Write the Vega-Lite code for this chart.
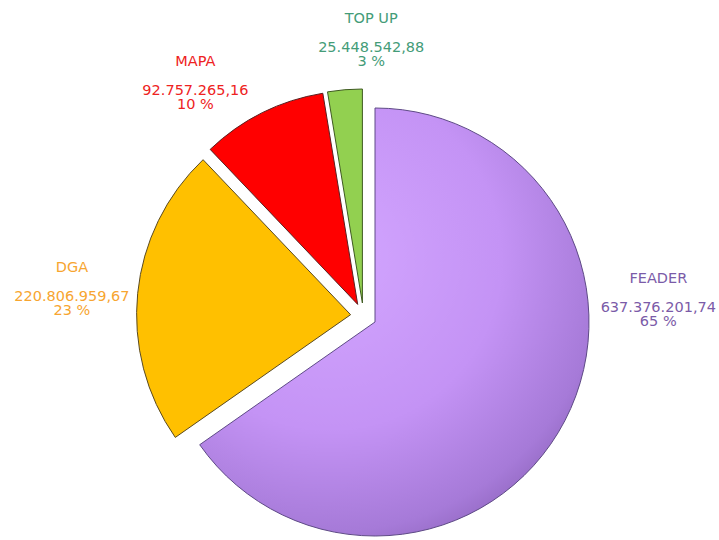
{
  "$schema": "https://vega.github.io/schema/vega-lite/v6.json",
  "width": 711,
  "height": 448,
  "autosize": {"type": "none"},
  "padding": {"left": 8, "top": 92, "right": 0, "bottom": 0},
  "background": "white",
  "config": {
    "view": {"stroke": null},
    "text": {"font": "DejaVu Sans", "fontSize": 14.5, "lineHeight": 14.5, "baseline": "middle", "align": "center"},
    "locale": {"number": {"decimal": ",", "thousands": ".", "grouping": [3], "currency": ["", " €"]}}
  },
  "data": {
    "values": [
      {"name": "FEADER", "value": 637376201.74, "order": 1},
      {"name": "DGA", "value": 220806959.67, "order": 2},
      {"name": "MAPA", "value": 92757265.16, "order": 3},
      {"name": "TOP UP", "value": 25448542.88, "order": 4}
    ]
  },
  "transform": [
    {"stack": "value", "groupby": [], "sort": [{"field": "order", "order": "ascending"}], "as": ["v0", "v1"]},
    {"joinaggregate": [{"op": "sum", "field": "value", "as": "total"}]},
    {"calculate": "datum.v0 / datum.total", "as": "f0"},
    {"calculate": "datum.v1 / datum.total", "as": "f1"},
    {"calculate": "(datum.f0 + datum.f1) / 2", "as": "fm"},
    {"calculate": "[format(datum.value, ',.2f'), round(100 * datum.value / datum.total) + ' %']", "as": "label"}
  ],
  "layer": [
    {
      "transform": [{"filter": "datum.name === 'FEADER'"}],
      "mark": {
        "type": "arc", "radius": 214, "xOffset": 11.5, "yOffset": 6,
        "stroke": "#5E4A86", "strokeWidth": 1,
        "fill": {
          "gradient": "radial", "x1": 0.35, "y1": 0.35, "r1": 0, "x2": 0.35, "y2": 0.35, "r2": 0.8,
          "stops": [
            {"offset": 0, "color": "#D3A6FF"},
            {"offset": 0.5, "color": "#C493F5"},
            {"offset": 0.8, "color": "#A67AD8"},
            {"offset": 1, "color": "#7E56AA"}
          ]
        }
      },
      "encoding": {
        "theta": {"field": "f0", "type": "quantitative", "stack": null, "scale": {"domain": [0, 1]}},
        "theta2": {"field": "f1"}
      }
    },
    {
      "transform": [{"filter": "datum.name === 'DGA'"}],
      "mark": {"type": "arc", "radius": 214, "xOffset": -12.9, "yOffset": -1.3, "fill": "#FFC000", "stroke": "#5A4A20", "strokeWidth": 1},
      "encoding": {
        "theta": {"field": "f0", "type": "quantitative", "stack": null, "scale": {"domain": [0, 1]}},
        "theta2": {"field": "f1"}
      }
    },
    {
      "transform": [{"filter": "datum.name === 'MAPA'"}],
      "mark": {"type": "arc", "radius": 214, "xOffset": -5.8, "yOffset": -11.6, "fill": "#FF0000", "stroke": "#5A2020", "strokeWidth": 1},
      "encoding": {
        "theta": {"field": "f0", "type": "quantitative", "stack": null, "scale": {"domain": [0, 1]}},
        "theta2": {"field": "f1"}
      }
    },
    {
      "transform": [{"filter": "datum.name === 'TOP UP'"}],
      "mark": {"type": "arc", "radius": 214, "xOffset": -1.1, "yOffset": -13, "fill": "#92D050", "stroke": "#3E5A20", "strokeWidth": 1},
      "encoding": {
        "theta": {"field": "f0", "type": "quantitative", "stack": null, "scale": {"domain": [0, 1]}},
        "theta2": {"field": "f1"}
      }
    },
    {
      "transform": [{"filter": "datum.name === 'FEADER'"}],
      "encoding": {
        "theta": {"field": "fm", "type": "quantitative", "scale": {"domain": [0, 1]}},
        "radius": {"value": 285}
      },
      "layer": [
        {"mark": {"type": "text", "dx": 42, "dy": -169, "color": "#7B5BA8"}, "encoding": {"text": {"field": "name"}}},
        {"mark": {"type": "text", "dx": 42, "dy": -140, "color": "#7B5BA8"}, "encoding": {"text": {"field": "label"}}}
      ]
    },
    {
      "transform": [{"filter": "datum.name === 'DGA'"}],
      "encoding": {
        "theta": {"field": "fm", "type": "quantitative", "scale": {"domain": [0, 1]}},
        "radius": {"value": 285}
      },
      "layer": [
        {"mark": {"type": "text", "dx": -8, "dy": -20, "color": "#F7A530"}, "encoding": {"text": {"field": "name"}}},
        {"mark": {"type": "text", "dx": -8, "dy": 9, "color": "#F7A530"}, "encoding": {"text": {"field": "label"}}}
      ]
    },
    {
      "transform": [{"filter": "datum.name === 'MAPA'"}],
      "encoding": {
        "theta": {"field": "fm", "type": "quantitative", "scale": {"domain": [0, 1]}},
        "radius": {"value": 285}
      },
      "layer": [
        {"mark": {"type": "text", "dx": -41, "dy": 1, "color": "#EE2222"}, "encoding": {"text": {"field": "name"}}},
        {"mark": {"type": "text", "dx": -41, "dy": 30, "color": "#EE2222"}, "encoding": {"text": {"field": "label"}}}
      ]
    },
    {
      "transform": [{"filter": "datum.name === 'TOP UP'"}],
      "encoding": {
        "theta": {"field": "fm", "type": "quantitative", "scale": {"domain": [0, 1]}},
        "radius": {"value": 285}
      },
      "layer": [
        {"mark": {"type": "text", "dx": 31, "dy": -13, "color": "#449C78"}, "encoding": {"text": {"field": "name"}}},
        {"mark": {"type": "text", "dx": 31, "dy": 16, "color": "#449C78"}, "encoding": {"text": {"field": "label"}}}
      ]
    }
  ]
}
